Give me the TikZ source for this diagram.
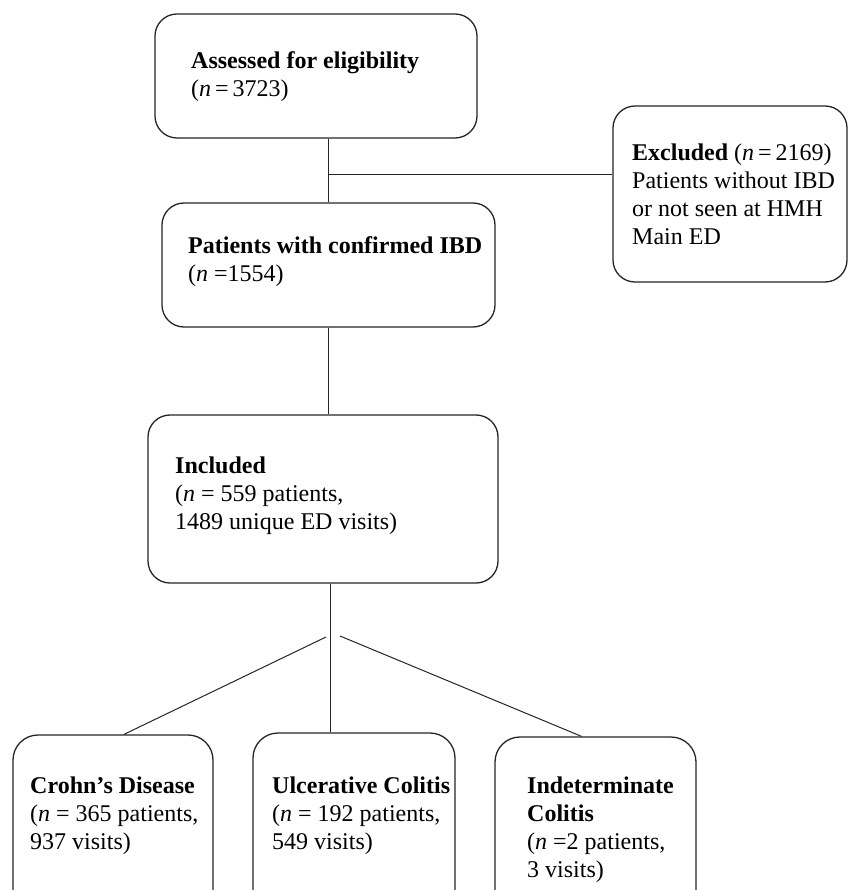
\documentclass[tikz,border=0pt]{standalone}
\usepackage{fontspec}
\setmainfont{Liberation Serif}
\begin{document}
\begin{tikzpicture}[x=1pt,y=-1pt,
  box/.style={draw=black!85, line width=1.3pt, rounded corners=22pt, inner sep=0pt},
  lbl/.style={anchor=north west, inner sep=0pt, align=left, font=\fontsize{24}{28}\selectfont},
  conn/.style={draw=black!85, line width=1pt}]
\useasboundingbox (0,0) rectangle (848,890);
\fill[white] (0,0) rectangle (848,890);
% boxes
\node[box, minimum width=322pt, minimum height=124pt] (b1) at (316,76) {};
\node[box, minimum width=333pt, minimum height=124pt] (b2) at (328.5,265) {};
\node[box, minimum width=350pt, minimum height=168pt] (b3) at (323,499) {};
\node[box, minimum width=234pt, minimum height=176pt] (ex) at (730,194) {};
\node[box, rounded corners=25pt, minimum width=200pt, minimum height=225pt] (cd) at (113,847.5) {};
\node[box, rounded corners=25pt, minimum width=202pt, minimum height=227pt] (uc) at (354,846.5) {};
\node[box, rounded corners=25pt, minimum width=201pt, minimum height=223pt] (ic) at (595.5,848.5) {};
% texts
\node[lbl] (t1) at (191,48.4) {\strut\textbf{Assessed for eligibility}\\(\textit{n}\,=\,3723)};
\node[lbl] (t2) at (188,233.4) {\strut\textbf{Patients with confirmed IBD}\\(\textit{n} =1554)};
\node[lbl] (t3) at (175,453.4) {\strut\textbf{Included}\\(\textit{n} = 559 patients,\\1489 unique ED visits)};
\node[lbl] (tx) at (632,140.4) {\strut\textbf{Excluded} (\textit{n}\,=\,2169)\\Patients without IBD\\or not seen at HMH\\Main ED};
\node[lbl] (tcd) at (30,773.4) {\strut\textbf{Crohn’s Disease}\\(\textit{n} = 365 patients,\\937 visits)};
\node[lbl] (tuc) at (272,773.4) {\strut\textbf{Ulcerative Colitis}\\(\textit{n} = 192 patients,\\549 visits)};
\node[lbl] (tic) at (527,773.4) {\strut\textbf{Indeterminate}\\\textbf{Colitis}\\(\textit{n} =2 patients,\\3 visits)};
% connectors
\coordinate (j1) at (329,175);
\coordinate (s) at (330,636);
\coordinate (sl) at (326,637);
\coordinate (sr) at (340,636);
\draw[conn] (b2.north |- b1.south) -- (b2.north);
\draw[conn] (j1) -- (j1 -| ex.west);
\draw[conn] (b2.south) -- (b2.south |- b3.north);
\draw[conn] (s |- b3.south) -- (s |- uc.north);
\draw[conn] (sl) -- ([xshift=11pt]cd.north);
\draw[conn] (sr) -- ([xshift=-14pt]ic.north);
\end{tikzpicture}
\end{document}
